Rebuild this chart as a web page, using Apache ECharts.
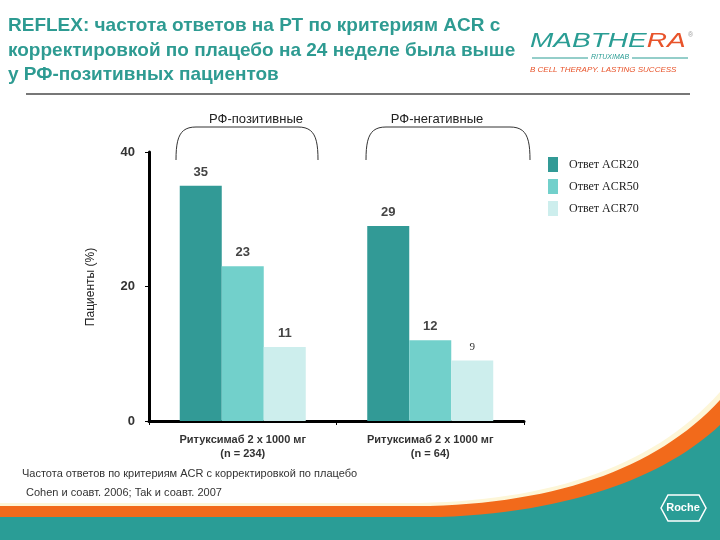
<!DOCTYPE html>
<html><head><meta charset="utf-8">
<script src="https://cdn.jsdelivr.net/npm/echarts@6/dist/echarts.min.js"></script>
<style>html,body{margin:0;padding:0;background:#fff}#c{width:720px;height:540px}</style>
</head><body><div id="c"></div>
<script>
var categories = ['Ритуксимаб 2 x 1000 мг\n(n = 234)', 'Ритуксимаб 2 x 1000 мг\n(n = 64)'];
var seriesNames = ['Ответ ACR20', 'Ответ ACR50', 'Ответ ACR70'];
var acr20 = [35, 29];
var acr50 = [23, 12];
var acr70 = [11, 9];
var yTicks = [0, 20, 40];
var groupLabels = ['РФ-позитивные', 'РФ-негативные'];
var titleLines = ['REFLEX: частота ответов на РТ по критериям ACR с', 'корректировкой по плацебо на 24 неделе была выше', 'у РФ-позитивных пациентов'];
var footnotes = ['Частота ответов по критериям ACR с корректировкой по плацебо', 'Cohen и соавт. 2006; Tak и соавт. 2007'];
var colors = ['#329a96', '#72d0cb', '#cdeeed'];

// cubic bezier sampler for decorative shapes
function bez(p0, p1, p2, p3, n) {
  var pts = [];
  for (var i = 0; i <= n; i++) {
    var t = i / n, u = 1 - t;
    pts.push([u*u*u*p0[0] + 3*u*u*t*p1[0] + 3*u*t*t*p2[0] + t*t*t*p3[0],
              u*u*u*p0[1] + 3*u*u*t*p1[1] + 3*u*t*t*p2[1] + t*t*t*p3[1]]);
  }
  return pts;
}
function swoosh(yL, xB, c1, c2, yR) {
  var pts = [[0, yL]].concat(bez([xB, yL], c1, c2, [720, yR], 30));
  pts.push([720, 540], [0, 540]);
  return pts;
}
function bracket(x1, x2, yT, yB) {
  return bez([x1, yB], [x1, yT + 10], [x1 + 4, yT], [x1 + 20, yT], 12)
    .concat(bez([x2 - 20, yT], [x2 - 4, yT], [x2, yT + 10], [x2, yB], 12));
}

var chart = echarts.init(document.getElementById('c'));
var lblBase = {show: true, position: 'top', distance: 7, fontFamily: 'Liberation Sans, Arial', fontWeight: 'bold', fontSize: 13, color: '#444'};
function mk(name, data, ci) {
  return {name: name, type: 'bar', data: data, barWidth: 42, barGap: '0%',
    itemStyle: {color: colors[ci]}, label: lblBase};
}
var d70 = acr70.map(function (v, i) {
  return i === 1 ? {value: v, label: {fontFamily: 'Liberation Serif', fontWeight: 'normal', fontSize: 11, color: '#333', distance: 8}} : v;
});
var teal = '#2e9b92';
function txt(x, y, text, font, fill, align, extra) {
  var o = {type: 'text', x: x, y: y, style: {text: text, font: font, fill: fill, textAlign: align || 'left', textVerticalAlign: 'top'}};
  if (extra) for (var k in extra) o[k] = extra[k];
  return o;
}
var graphic = [
  txt(8, 16, titleLines[0], 'bold 19px "Liberation Sans", Arial', teal),
  txt(8, 41, titleLines[1], 'bold 19px "Liberation Sans", Arial', teal),
  txt(8, 65, titleLines[2], 'bold 19px "Liberation Sans", Arial', teal),
  {type: 'line', shape: {x1: 26, y1: 94, x2: 690, y2: 94}, style: {stroke: '#777', lineWidth: 2}},
  // logo
  {type: 'text', x: 530, y: 31, scaleX: 1.4, style: {
    text: '{a|MABTHE}{b|RA}', textVerticalAlign: 'top',
    rich: {a: {font: 'italic 20px "Liberation Sans", Arial', fill: '#2a9d94', color: '#2a9d94'},
           b: {font: 'italic 20px "Liberation Sans", Arial', fill: '#e8532a', color: '#e8532a'}}}},
  txt(688, 32, '®', '7px Arial', '#999'),
  {type: 'line', shape: {x1: 532, y1: 58, x2: 588, y2: 58}, style: {stroke: '#2a9d94', lineWidth: 1}},
  {type: 'line', shape: {x1: 632, y1: 58, x2: 688, y2: 58}, style: {stroke: '#2a9d94', lineWidth: 1}},
  txt(610, 54, 'RITUXIMAB', 'italic 7px Arial', '#2a9d94', 'center'),
  txt(530, 66, 'B CELL THERAPY. LASTING SUCCESS', 'italic 8px "Liberation Sans", Arial', '#e8532a'),
  // group labels
  txt(256, 113, groupLabels[0], '13px "Liberation Sans", Arial', '#222', 'center'),
  txt(437, 113, groupLabels[1], '13px "Liberation Sans", Arial', '#222', 'center'),
  {type: 'polyline', shape: {points: bracket(176, 318, 127, 160)}, style: {stroke: '#333', fill: null, lineWidth: 1}},
  {type: 'polyline', shape: {points: bracket(366, 530, 127, 160)}, style: {stroke: '#333', fill: null, lineWidth: 1}},
  // y axis title
  {type: 'text', x: 91, y: 287, rotation: Math.PI / 2, style: {text: 'Пациенты (%)', font: '12px "Liberation Sans", Arial', fill: '#222', textAlign: 'center', textVerticalAlign: 'middle'}},
  // footnotes
  txt(22, 468, footnotes[0], '11px "Liberation Sans", Arial', '#333'),
  txt(26, 487, footnotes[1], '11px "Liberation Sans", Arial', '#333'),
  // bottom swoosh
  {type: 'polygon', z: -1, shape: {points: swoosh(503, 420, [555, 500], [655, 465], 392)}, style: {fill: '#fdf6d8'}},
  {type: 'polygon', z: -1, shape: {points: swoosh(506, 430, [565, 502], [660, 465], 400)}, style: {fill: '#f26a1b'}},
  {type: 'polygon', z: -1, shape: {points: swoosh(517, 440, [580, 512], [670, 472], 425)}, style: {fill: '#2a9d96'}},
  // Roche logo
  {type: 'polygon', shape: {points: [[661, 508], [668, 495], [699, 495], [706, 508], [699, 521], [668, 521]]}, style: {stroke: '#fff', fill: null, lineWidth: 1.5}},
  {type: 'text', x: 683, y: 508, style: {text: 'Roche', font: 'bold 11px "Liberation Sans", Arial', fill: '#fff', textAlign: 'center', textVerticalAlign: 'middle'}}
];

chart.setOption({
  animation: false,
  backgroundColor: '#fff',
  grid: {left: 149, right: 196, top: 152, bottom: 119, containLabel: false},
  legend: {
    orient: 'vertical', left: 543, top: 152, itemWidth: 10, itemHeight: 15, itemGap: 7,
    data: seriesNames, icon: 'rect',
    textStyle: {fontFamily: 'Liberation Serif, Times New Roman', fontSize: 12, color: '#222', padding: [0, 0, 0, 6]}
  },
  xAxis: {
    type: 'category', data: categories,
    axisLine: {lineStyle: {color: '#000', width: 3}},
    axisTick: {show: true, length: 4, lineStyle: {color: '#000', width: 1}},
    axisLabel: {margin: 12, fontFamily: 'Liberation Sans, Arial', fontWeight: 'bold', fontSize: 11, color: '#333', lineHeight: 14}
  },
  yAxis: {
    type: 'value', min: 0, max: 40, interval: 20,
    axisLine: {show: true, lineStyle: {color: '#000', width: 3}},
    axisTick: {show: true, length: 4, lineStyle: {color: '#000'}},
    splitLine: {show: false},
    axisLabel: {margin: 14, fontFamily: 'Liberation Sans, Arial', fontWeight: 'bold', fontSize: 13, color: '#333',
      formatter: function (v) { return yTicks.indexOf(v) >= 0 ? String(v) : ''; }}
  },
  series: [mk(seriesNames[0], acr20, 0), mk(seriesNames[1], acr50, 1), {
    name: seriesNames[2], type: 'bar', data: d70, barWidth: 42, barGap: '0%',
    itemStyle: {color: colors[2]}, label: lblBase}],
  graphic: graphic
});
</script></body></html>
